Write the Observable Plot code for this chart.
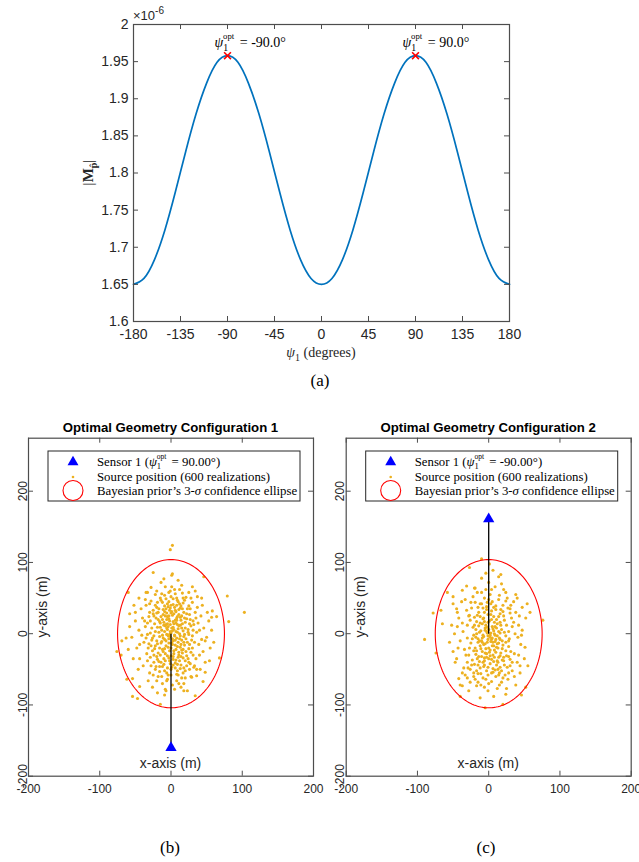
<!DOCTYPE html>
<html><head><meta charset="utf-8">
<script src="https://cdn.jsdelivr.net/npm/d3@7"></script>
<script src="https://cdn.jsdelivr.net/npm/@observablehq/plot@0.6"></script>
<style>
body{margin:0;background:#fff;}
#fig{position:relative;width:639px;height:862px;overflow:hidden;background:#fff;}
#fig > svg{position:absolute;}
.cap{position:absolute;font-family:"Liberation Serif","Times New Roman",serif;font-size:17px;color:#000;transform:translate(-50%,-50%);white-space:nowrap;}
</style></head><body><div id="fig"></div>
<script>
// ---------- DATA ----------
const psiDeg = [-180,-170,-160,-150,-140,-130,-120,-110,-100,-90,-80,-70,-60,-50,-40,-30,-20,-10,0,10,20,30,40,50,60,70,80,90,100,110,120,130,140,150,160,170,180];
const mpVal  = [1.650,1.658,1.683,1.723,1.774,1.829,1.880,1.921,1.949,1.958,1.949,1.921,1.880,1.829,1.774,1.723,1.683,1.658,1.650,1.658,1.683,1.723,1.774,1.829,1.880,1.921,1.949,1.958,1.949,1.921,1.880,1.829,1.774,1.723,1.683,1.658,1.650];
const optPsi = [-90, 90];
const optVal = [1.958, 1.958];
const optLabel = ["-90.0°", "90.0°"];
const xTicksTop = [-180,-135,-90,-45,0,45,90,135,180];
const yTicksTop = [1.6,1.65,1.7,1.75,1.8,1.85,1.9,1.95,2];

const axTicks = [-200,-100,0,100,200];
const ellipseSemiAxes = [75, 104];     // 3-sigma ellipse (x, y) in m
const sensorB = [0, -160];
const sensorC = [0, 161];
const titles = ["Optimal Geometry Configuration 1", "Optimal Geometry Configuration 2"];
const sensorPsi = ["90.00°", "-90.00°"];

const srcB = [
[-12,44],[3,41],[9,47],[-4,38],[17,43],[-22,40],[25,39],[-7,49],[13,36],[-17,35],[0,52],[6,33],[-28,46],[21,51],[-1,36],[30,44],
[-9,31],[4,28],[11,34],[-20,29],[18,30],[-3,25],[26,27],[-14,24],[8,22],[-25,33],[1,31],[15,25],[-6,20],[22,21],[-31,24],[34,30],[-11,27],[5,37],
[-2,18],[7,15],[-16,17],[13,12],[-8,11],[20,16],[3,9],[-23,14],[28,11],[-5,6],[10,7],[-13,5],[17,4],[-1,13],[24,6],[-19,9],[6,19],[-27,8],[-10,16],[14,19],[2,4],[-33,15],[31,18],[-4,10],[9,2],
[0,1],[-6,-1],[5,-3],[12,0],[-12,-2],[18,-4],[-17,2],[25,-1],[-24,-3],[8,-6],[-3,-7],[3,-10],[-9,-8],[15,-9],[-20,-10],[21,-7],[30,-3],[-29,1],[-35,-6],[36,2],[-1,-4],[10,-12],[-14,-13],
[2,-15],[-7,-17],[13,-19],[-16,-20],[7,-22],[-2,-24],[19,-16],[-11,-25],[25,-21],[-22,-17],[4,-28],[16,-27],[-5,-31],[28,-26],[-26,-24],[-31,-14],[33,-12],[10,-33],[-15,-30],[0,-20],[22,-31],
[-8,-38],[6,-41],[-19,-36],[14,-44],[1,-47],[-3,-34],[20,-38],[-12,-46],[27,-42],[-24,-40],[9,-52],[-6,-55],[17,-55],[-29,-33],[35,-35],[3,-36],
[-40,22],[-45,5],[-38,-12],[-42,35],[-50,18],[-48,-20],[-36,48],[-52,40],[-44,-35],[-55,-5],[-39,-45],[-33,58],[-30,-55],[42,25],[46,8],[39,-15],[50,-5],[44,40],[53,18],[40,-30],[48,-40],[37,52],[55,-20],[43,-8],[36,-50],
[-20,60],[-8,66],[5,62],[15,68],[25,58],[-14,72],[10,75],[-28,65],[30,66],[-3,58],
[-18,-60],[-5,-64],[8,-66],[20,-62],[-25,-58],[2,-72],[-12,-70],[14,-75],[28,-60],[-32,-66],[-8,-78],
[-58,28],[60,-12],[58,32],[-60,-22],[32,-47],[-34,-28],[38,15],[-41,-2],
[-3,45],[8,50],[-15,50],[19,47],[12,42],[-9,39],[-25,28],[27,35],[-18,30],[2,26],[-6,29],[11,27],[16,35],[-21,22],[-12,20],[9,24],[26,14],[-29,18],[4,14],[-7,13],[15,8],[-15,9],[1,8],[-22,3],[19,-1],[7,3],[-9,3],[-4,-3],[13,-3],[-11,-6],[23,-12],[-27,-9],[6,-16],[-3,-13],[17,-22],[-9,-21],[11,-26],[-18,-27],[3,-32],[24,-35],[-14,-40],[-1,-42],[12,-38],[-21,-46],[6,-48],[18,-48],[-9,-52],[30,-20],[-32,-20],[31,5],[-36,10],[35,22],[-30,30],[0,-58],[5,-2],[-5,24],[22,28],[-24,-30],[14,-32],[-2,33],[8,40],[-13,56],[16,57],[1,66],[-6,-66],[10,-58],[-16,-53],[26,-50],
[-1,3],[4,6],[-6,8],[11,11],[-10,12],[16,14],[-15,15],[3,17],[-3,21],[8,19],[-8,25],[13,23],[-18,20],[19,22],[0,29],[-11,34],[7,31],[14,39],[-5,42],[23,35],[-20,37],[10,45],[-14,47],[3,49],[-24,25],[27,20],[29,-9],[-26,-6],[-7,-10],[6,-9],[12,-7],[-13,-11],[1,-13],[18,-12],[-19,-14],[9,-18],[-4,-19],[15,-23],[-12,-22],[4,-24],[21,-25],[-8,-28],[0,-31],[11,-30],[-20,-32],[17,-34],[-2,-38],[7,-37],[-10,-43],[25,-40],[-16,-46],[3,-44],[13,-49],[-5,-48],[20,-52],[-22,-50],[8,-57],[-13,-60],[-28,-45],[31,-30],[33,-45],[-33,-38],[-37,18],[37,37],[-35,40],[40,5],[-44,-15],[45,-25],[0,40],[-7,35],[20,8],[-2,-1],[2,-7],[-5,14],[9,13],[-16,-4],[14,-15],[-23,-21],[24,2],[-19,44],[17,50],[-9,54],[6,56],[-1,60],[12,62],[-22,55],[28,50],[-30,42],[32,13],[-33,-1],[26,-15],[-28,-17],[-10,-35],[9,-43],[-17,-39],[22,-45],[0,-50],[-4,-58],[15,-62],[-20,-66],[5,-78],[-9,-86],[18,-70],[-26,-75],[23,-80],[41,-50],[-46,-50],[48,-10],[-50,30],[51,30],[-35,58],[34,60],[-45,50],[43,50],[-53,-35],[54,-38],[-58,10],[57,5],
[2,124],[-1,118],[-25,86],[2,84],[1,82],[-10,77],[46,80],[79,53],[103,30],[81,17],[64,24],[57,23],[-60,58],[-76,-25],[-70,-30],[-63,-6],[-69,-10],[68,-34],[-62,-64],[-54,-63],[-44,-74],[-54,-88],[-47,-91],[-19,-83],[-15,-99],[-7,-80],[34,-87],[45,-67],[48,-54],[18,-80],[11,-70],[36,-59],[29,-61]
];

const srcC = [
[5,45],[-10,42],[14,48],[-3,38],[20,40],[-19,44],[27,36],[-6,50],[10,34],[-24,36],[2,55],[-14,30],[16,28],[-1,27],[30,29],[-27,26],[7,24],[-8,21],[22,19],[-17,17],[12,14],[-4,12],[1,18],[-22,9],[18,6],[-11,4],[6,7],[-30,12],[33,10],[-2,1],[9,-2],[-7,-4],[15,-6],[-15,-7],[24,-3],[-21,-2],[3,-11],[-5,-14],[12,-14],[-12,-17],[20,-16],[-25,-13],[28,-18],[0,-20],[8,-23],[-9,-25],[17,-27],[-18,-29],[25,-31],[-3,-33],[4,-36],[-13,-39],[13,-40],[-23,-37],[22,-44],[-7,-46],[6,-49],[-17,-52],[15,-55],[-1,-58],[30,-45],[-30,-40],[36,-28],[-34,-22],[37,0],[-36,3],[32,22],[-31,33],
[-6,30],[4,32],[11,20],[-12,24],[-2,9],[8,0],[-19,-20],[14,-33],[2,-42],[-10,-32],[19,-37],[-15,-44],[10,-60],[-4,-64],[23,-58],[-21,-60],[1,-26],[-1,-8],[5,-17],[-26,-50],[29,-7],[-28,-30],[-4,62],[9,66],[-16,58],[21,62],[26,50],[-22,52],
[3,42],[-8,36],[17,34],[-20,23],[25,12],[-9,14],[14,3],[-17,0],[6,-30],[-6,-38],[16,-47],[-13,-10],[10,-8],[-3,-52],[4,-67],[-11,-72],[18,-68],[-26,-68],[12,-77],[-1,-80],[27,-64],[-33,-58],[33,-52],[40,-40],[-40,-10],[42,12],[-42,22],[45,-15],[-45,-35],[38,30],[-38,45],[47,5],[-48,0],[35,45],[-35,-48],[44,-55],[-50,-25],[50,-35],[-44,30],[41,-5],[-52,12],[52,22],[0,72],[-10,78],[14,80],
[7,37],[-15,37],[21,25],[-26,19],[4,20],[-6,17],[9,10],[-14,11],[19,-10],[-9,-12],[2,-5],[11,-19],[-21,-24],[7,-39],[-11,-56],[24,-24],[-30,-6],[30,-36],[0,48],[-18,6],[16,16],[-3,-28],[13,-50],[-24,-44],[28,3],[-5,5],[6,-54],[-16,-35],
[2,-2],[-3,3],[7,4],[-8,-2],[12,-3],[-13,2],[16,1],[-18,-5],[4,-8],[-2,-12],[9,-11],[-7,-15],[14,-13],[-15,-12],[19,-21],[-11,-21],[2,-23],[10,-26],[-5,-27],[16,-31],[-14,-32],[0,-35],[8,-33],[-8,-40],[21,-38],[-20,-43],[11,-44],[-1,-47],[18,-52],[-12,-48],[4,-55],[-21,-55],[26,-47],[5,10],[-5,8],[11,8],[-12,15],[17,12],[-1,16],[8,16],[-7,22],[14,24],[-16,26],[3,27],[-3,34],[20,31],[10,39],[-12,42],[24,46],[-25,44],[-2,44],[28,-10],[-27,-20],[31,-25],[-32,-30],[33,-40],[-29,-48],[35,16],[-37,15],[24,-12],[-23,-7],[0,6],[5,-6],[-9,-6],[13,-20],[-4,-21],[7,-17],[-17,-24],[21,-33],[-6,-34],[2,-31],[12,-38],[-15,-56],[9,-51],[-8,-62],[20,-62],[0,-70],[-19,-64],[15,-72],[-6,-75],[28,-55],[-30,-62],[36,-60],[-37,-55],[42,-30],[-43,-20],[44,-45],[-47,-40],[43,25],[-44,10],[46,-2],[-45,35],[31,40],[-33,48],[15,54],[-10,58],[4,62],[-20,64],[18,70],[-4,85],[40,50],[-50,52],[55,-45],[-55,-12],[-40,-72],[38,-72],[25,-77],[-28,-80],[7,-88],[-12,-90],[30,35],[-28,25],[22,2],[-20,12],[-1,-3],[3,1],[6,-12],[-10,-10],[16,-8],[-6,-44],[14,-58],[28,-32],
[-10,105],[1,98],[-27,93],[6,89],[17,83],[-58,58],[-37,61],[-78,29],[-67,33],[-50,42],[-90,-8],[-74,-27],[-65,14],[76,19],[54,42],[47,37],[58,30],[51,-19],[-40,-88],[24,-85],[46,-86],[52,-75],[20,-99],[-5,-104],[-37,-73],[-42,-63],[-17,-73],[-15,-68],[38,55],[24,58],[-31,67],[-19,64]
];

// ---------- LAYOUT / STYLE ----------
const SANS = "'Liberation Sans', Arial, Helvetica, sans-serif";
const SERIF = "'Liberation Serif', 'Times New Roman', serif";
const AX = "#4d4d4d";
const fig = document.getElementById("fig");

function psiOptText(sel, x, y, rest, size) {
  const t = sel.append("text").attr("x", x).attr("y", y).attr("text-anchor", "start")
    .attr("font-family", SERIF).attr("font-size", size).attr("fill", "#000");
  t.append("tspan").attr("font-style", "italic").text("ψ");
  t.append("tspan").attr("font-size", size * 0.7).attr("dy", size * 0.3).text("1");
  t.append("tspan").attr("font-size", size * 0.62).attr("dx", -size * 0.36).attr("dy", -size * 0.85).text("opt");
  t.append("tspan").attr("dy", size * 0.55).attr("dx", size * 0.15).text(rest);
  return t;
}

// ---------- TOP CHART (a) ----------
{
  const W = 639, H = 400, mT = 24, mR = 130, mB = 79, mL = 133;
  const fw = W - mL - mR, fh = H - mT - mB;
  const curve = psiDeg.map((p, i) => ({psi: p, m: mpVal[i]}));
  const opt = optPsi.map((p, i) => ({psi: p, m: optVal[i], lab: optLabel[i]}));
  const svg = Plot.plot({
    width: W, height: H, marginTop: mT, marginRight: mR, marginBottom: mB, marginLeft: mL,
    style: {fontFamily: SANS, fontSize: "14px", color: "#262626", background: "transparent", overflow: "visible"},
    x: {domain: [-180, 180]},
    y: {domain: [1.6, 2.0]},
    marks: [
      Plot.line(curve, {x: "psi", y: "m", stroke: "#0072BD", strokeWidth: 1.7, curve: "natural"}),
      Plot.dot(opt, {x: "psi", y: "m", symbol: "times", r: 3.2, stroke: "#ff0000", strokeWidth: 1.6}),
      Plot.ruleX(xTicksTop, {x: d => d, insetTop: fh - 5, stroke: AX}),
      Plot.ruleX(xTicksTop, {x: d => d, insetBottom: fh - 5, stroke: AX}),
      Plot.ruleY(yTicksTop, {y: d => d, insetRight: fw - 5, stroke: AX}),
      Plot.ruleY(yTicksTop, {y: d => d, insetLeft: fw - 5, stroke: AX}),
      Plot.frame({stroke: AX, strokeWidth: 1.2}),
      Plot.axisX(xTicksTop, {tickSize: 0, tickPadding: 7.5, label: null, fontSize: 14, tickFormat: d => String(d)}),
      Plot.axisY(yTicksTop, {tickSize: 0, tickPadding: 5, label: null, fontSize: 14, tickFormat: d => String(+d.toFixed(2))})
    ]
  });
  svg.style.left = "0px"; svg.style.top = "0px";
  fig.appendChild(svg);
  const s = d3.select(svg);
  const xs = svg.scale("x");
  const ex = s.append("text").attr("x", mL).attr("y", 20).attr("text-anchor", "start").attr("font-family", SANS).attr("font-size", 13).attr("fill", "#262626");
  ex.append("tspan").text("×10");
  ex.append("tspan").attr("font-size", 10).attr("dy", -6).text("-6");
  opt.forEach(o => psiOptText(s, xs.apply(o.psi) - 12.5, 46.5, " = " + o.lab, 14));
  const xl = s.append("text").attr("x", mL + fw / 2).attr("y", 357).attr("text-anchor", "middle")
    .attr("font-family", SERIF).attr("font-size", 14).attr("fill", "#262626");
  xl.append("tspan").attr("font-style", "italic").text("ψ");
  xl.append("tspan").attr("font-size", 10).attr("dy", 4).text("1");
  xl.append("tspan").attr("dy", -4).text(" (degrees)");
  const yl = s.append("text").attr("transform", `translate(93,${mT + fh / 2}) rotate(-90)`).attr("text-anchor", "middle")
    .attr("font-family", SERIF).attr("font-size", 15).attr("fill", "#262626");
  yl.append("tspan").text("|");
  yl.append("tspan").attr("font-weight", "bold").text("M");
  yl.append("tspan").attr("font-size", 10).attr("font-weight", "bold").attr("dy", 4).text("p\u0302");
  yl.append("tspan").attr("dy", -4).text("|");
}

// ---------- BOTTOM PANELS (b), (c) ----------
function panel({pts, sensor, title, psiLab, left, width, mL, mR}) {
  const H = 410, mT = 37.7, mB = 34.3;
  const fw = width - mL - mR, fh = H - mT - mB;
  const src = pts.map(([x, y]) => ({x, y}));
  const [a, b] = ellipseSemiAxes;
  const ell = d3.range(0, 361, 2).map(t => ({x: a * Math.cos(t * Math.PI / 180), y: b * Math.sin(t * Math.PI / 180)}));
  const sens = [{x: sensor[0], y: sensor[1]}];
  const link = [{x1: 0, y1: 0, x2: sensor[0], y2: sensor[1]}];
  const svg = Plot.plot({
    width, height: H, marginTop: mT, marginRight: mR, marginBottom: mB, marginLeft: mL,
    style: {fontFamily: SANS, fontSize: "12px", color: "#262626", background: "transparent", overflow: "visible"},
    x: {domain: [-200, 200], axis: null},
    y: {domain: [-200, -200 + 400 * fh / fw], axis: null},
    marks: [
      Plot.dot(src, {x: "x", y: "y", r: 1.55, fill: "#EDB120", stroke: "none"}),
      Plot.line(ell, {x: "x", y: "y", stroke: "#ff0000", strokeWidth: 1.1}),
      Plot.link(link, {x1: "x1", y1: "y1", x2: "x2", y2: "y2", stroke: "#000", strokeWidth: 1.3}),
      Plot.dot(sens, {x: "x", y: "y", symbol: "triangle", r: 4.2, fill: "#0000ff", stroke: "none"}),
      Plot.ruleX(axTicks, {x: d => d, insetTop: fh - 5, stroke: AX}),
      Plot.ruleX(axTicks, {x: d => d, insetBottom: fh - 5, stroke: AX}),
      Plot.ruleY(axTicks, {y: d => d, insetRight: fw - 5, stroke: AX}),
      Plot.ruleY(axTicks, {y: d => d, insetLeft: fw - 5, stroke: AX}),
      Plot.frame({stroke: AX, strokeWidth: 1.2}),
      Plot.text(axTicks, {x: d => d, text: d => String(d), frameAnchor: "bottom", lineAnchor: "top", dy: 8, fontSize: 12, fill: "#262626"}),
      Plot.text(axTicks, {y: d => d, text: d => String(d), frameAnchor: "left", rotate: -90, textAnchor: "middle", lineAnchor: "bottom", dx: -2, fontSize: 12, fill: "#262626"})
    ]
  });
  svg.style.left = left + "px"; svg.style.top = "400px";
  fig.appendChild(svg);
  const s = d3.select(svg);
  s.append("text").attr("x", mL + fw / 2).attr("y", 31.5).attr("text-anchor", "middle")
    .attr("font-family", SANS).attr("font-weight", "bold").attr("font-size", 13.2).attr("fill", "#000").text(title);
  s.append("text").attr("x", mL + fw / 2).attr("y", 368).attr("text-anchor", "middle")
    .attr("font-family", SANS).attr("font-size", 14).attr("fill", "#262626").text("x-axis (m)");
  s.append("text").attr("transform", `translate(${mL + 19},${mT + fh / 2}) rotate(-90)`).attr("text-anchor", "middle")
    .attr("font-family", SANS).attr("font-size", 14).attr("fill", "#262626").text("y-axis (m)");
  // legend
  const lx = mL + 20, ly = 51, lw = 252, lh = 50;
  const g = s.append("g").attr("text-anchor", "start");
  g.append("rect").attr("x", lx).attr("y", ly).attr("width", lw).attr("height", lh)
    .attr("fill", "#fff").attr("stroke", "#262626").attr("stroke-width", 1);
  const mx = lx + 25, tx = lx + 49;
  g.append("path").attr("d", d3.symbol(d3.symbolTriangle, 52)()).attr("transform", `translate(${mx},${ly + 11})`).attr("fill", "#0000ff");
  g.append("circle").attr("cx", mx).attr("cy", ly + 26).attr("r", 1.3).attr("fill", "#EDB120");
  g.append("circle").attr("cx", mx).attr("cy", ly + 39.5).attr("r", 10).attr("fill", "none").attr("stroke", "#ff0000").attr("stroke-width", 1.1);
  const t1 = g.append("text").attr("x", tx).attr("y", ly + 15).attr("font-family", SERIF).attr("font-size", 12.8).attr("fill", "#000");
  t1.append("tspan").text("Sensor 1 (");
  t1.append("tspan").attr("font-style", "italic").text("ψ");
  t1.append("tspan").attr("font-size", 8.5).attr("dy", 2.5).text("1");
  t1.append("tspan").attr("font-size", 7.5).attr("dx", -4.3).attr("dy", -9.5).text("opt");
  t1.append("tspan").attr("dy", 7).attr("dx", 2).text(" = " + psiLab + ")");
  g.append("text").attr("x", tx).attr("y", ly + 29.5).attr("font-family", SERIF).attr("font-size", 12.8).attr("fill", "#000")
    .text("Source position (600 realizations)");
  const t3 = g.append("text").attr("x", tx).attr("y", ly + 43.5).attr("font-family", SERIF).attr("font-size", 12.8).attr("fill", "#000");
  t3.append("tspan").text("Bayesian prior’s 3-");
  t3.append("tspan").attr("font-style", "italic").text("σ");
  t3.append("tspan").text(" confidence ellipse");
}

panel({pts: srcB, sensor: sensorB, title: titles[0], psiLab: sensorPsi[0], left: 0, width: 320, mL: 28, mR: 7});
panel({pts: srcC, sensor: sensorC, title: titles[1], psiLab: sensorPsi[1], left: 320, width: 319, mL: 25.7, mR: 8.3});

// captions
[["(a)", 320, 381], ["(b)", 170, 848], ["(c)", 486, 848]].forEach(([t, x, y]) => {
  const d = document.createElement("div");
  d.className = "cap"; d.textContent = t; d.style.left = x + "px"; d.style.top = y + "px";
  fig.appendChild(d);
});
</script></body></html>
